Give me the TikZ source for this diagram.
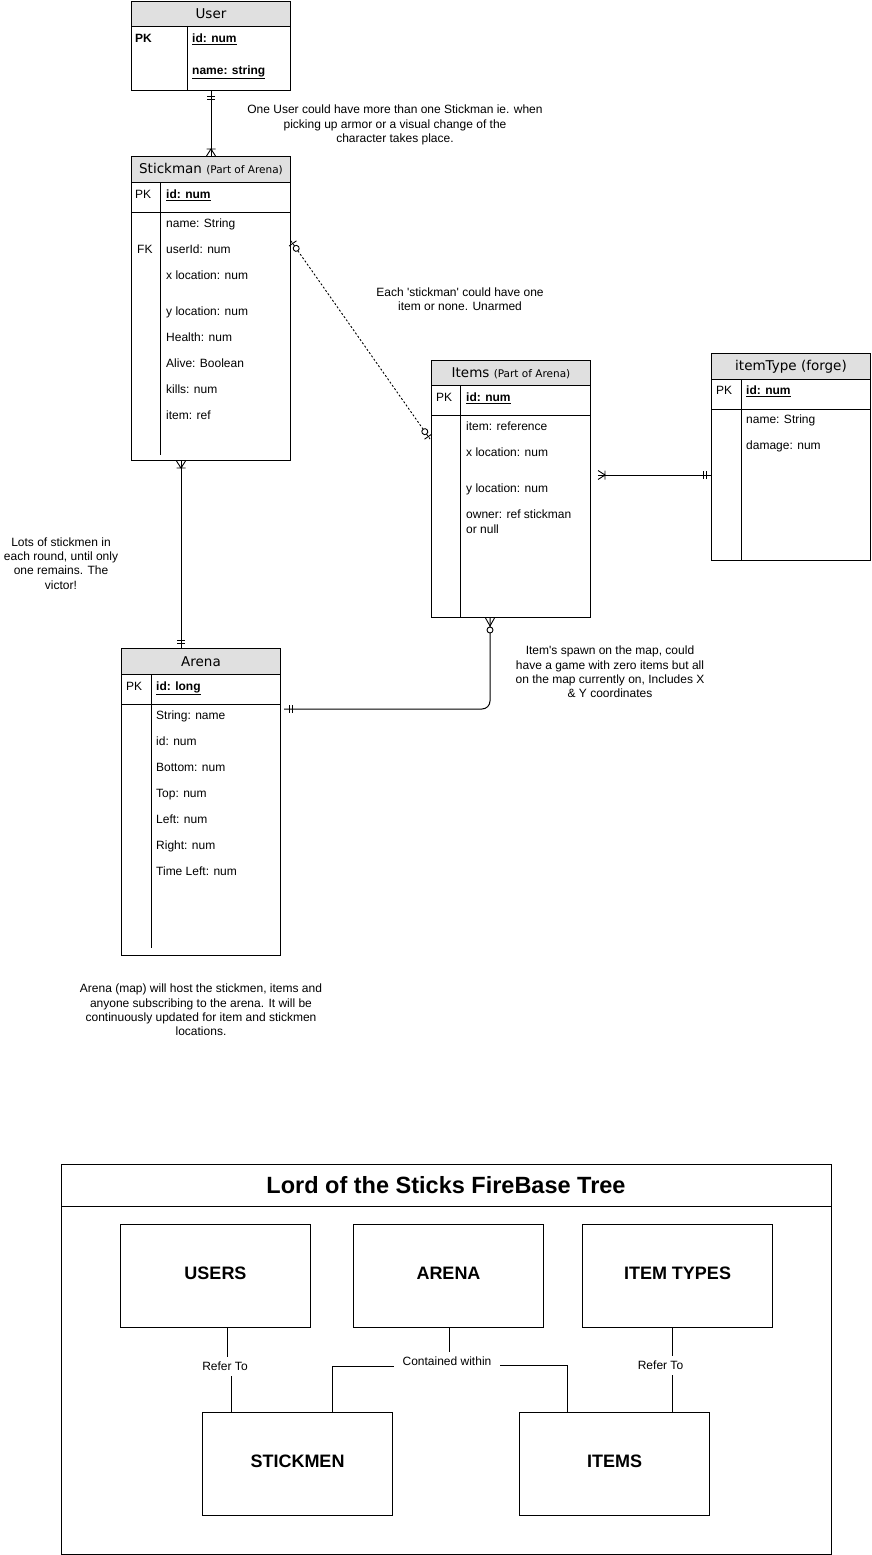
\documentclass[tikz,border=0pt]{standalone}
\usepackage{fontspec}
\setmainfont{Liberation Sans}[Ligatures=TeXOff]
\newfontfamily\hdrfont{DejaVu Sans}
\usetikzlibrary{calc}
\definecolor{hdrgray}{RGB}{224,224,224}
\newcommand\erMandOne[2]{\begin{scope}[shift={(#1)},rotate=#2]\draw[mk] (5,-4)--(5,4) (8,-4)--(8,4);\end{scope}}
\newcommand\erOneMany[2]{\begin{scope}[shift={(#1)},rotate=#2]\draw[mk] (0,-4.5)--(7,0)--(0,4.5) (7,-4.5)--(7,4.5);\end{scope}}
\newcommand\erZeroMany[2]{\begin{scope}[shift={(#1)},rotate=#2]\draw[mk] (0,-4.5)--(8,0)--(0,4.5); \draw[mk,fill=white] (12,0) circle[radius=3pt];\end{scope}}
\newcommand\erZeroOne[2]{\begin{scope}[shift={(#1)},rotate=#2]\draw[mk] (3,-4.5)--(3,4.5); \draw[mk,fill=white] (9,0) circle[radius=3pt];\end{scope}}
\begin{document}
\begin{tikzpicture}[x=1pt,y=-1pt,
  mk/.style={line width=0.9pt,solid,black},
  ln/.style={line width=1pt},
  tbox/.style={draw,line width=1pt,anchor=north west,inner sep=0pt},
  hdrbox/.style={tbox,fill=hdrgray,font=\hdrfont\fontsize{13.5}{16}\selectfont},
  att/.style={anchor=west,inner sep=0pt,font=\fontsize{12}{14}\selectfont,text height=9pt,text depth=2.5pt},
  attb/.style={att,font=\fontsize{12}{14}\selectfont\bfseries},
  note/.style={align=center,inner sep=0pt,font=\fontsize{12}{14.4}\selectfont},
  bigbox/.style={draw,line width=1pt,minimum width=190pt,minimum height=103pt,anchor=north west,inner sep=0pt,text depth=6pt,font=\fontsize{18}{20}\selectfont\bfseries},
  lbl/.style={fill=white,inner xsep=9pt,inner ysep=5pt,font=\fontsize{12}{14}\selectfont}
]
\useasboundingbox (0,0) rectangle (871,1555);
\fill[white] (0,0) rectangle (871,1555);

% ---------- User ----------
\node[hdrbox,minimum width=159pt,minimum height=25pt] (userH) at (131,1) {User};
\node[tbox,minimum width=159pt,minimum height=64pt] (user) at (131,26) {};
\draw[ln] (187,26) -- (187,90);
\node[attb] at (135,39) {PK};
\node[attb] at (192,39) {\underline{id: num}};
\node[attb] at (192,71) {\underline{name: string}};

% ---------- Stickman ----------
\node[hdrbox,minimum width=159pt,minimum height=26pt] (stickH) at (131,156) {Stickman {\fontsize{10.5}{12}\selectfont(Part of Arena)}};
\node[tbox,minimum width=159pt,minimum height=278pt] (stick) at (131,182) {};
\draw[ln] (131,212) -- (290,212);
\draw[ln] (160,182) -- (160,455);
\node[att] at (135,195) {PK};
\node[attb] at (166,195) {\underline{id: num}};
\node[att] at (166,224) {name: String};
\node[att] at (137,250) {FK};
\node[att] at (166,250) {userId: num};
\node[att] at (166,276) {x location: num};
\node[att] at (166,312) {y location: num};
\node[att] at (166,338) {Health: num};
\node[att] at (166,364) {Alive: Boolean};
\node[att] at (166,390) {kills: num};
\node[att] at (166,416) {item: ref};

% ---------- Items ----------
\node[hdrbox,minimum width=159pt,minimum height=25pt] (itemsH) at (431,360) {Items {\fontsize{10.5}{12}\selectfont(Part of Arena)}};
\node[tbox,minimum width=159pt,minimum height=232pt] (items) at (431,385) {};
\draw[ln] (431,415) -- (590,415);
\draw[ln] (460,385) -- (460,617);
\node[att] at (436,398) {PK};
\node[attb] at (466,398) {\underline{id: num}};
\node[att] at (466,427) {item: reference};
\node[att] at (466,453) {x location: num};
\node[att] at (466,489) {y location: num};
\node[att] at (466,515) {owner: ref stickman};
\node[att] at (466,530) {or null};

% ---------- itemType ----------
\node[hdrbox,minimum width=159pt,minimum height=26pt] (itypeH) at (711,353) {itemType (forge)};
\node[tbox,minimum width=159pt,minimum height=181pt] (itype) at (711,379) {};
\draw[ln] (711,409) -- (870,409);
\draw[ln] (741,379) -- (741,560);
\node[att] at (716,391) {PK};
\node[attb] at (746,391) {\underline{id: num}};
\node[att] at (746,420) {name: String};
\node[att] at (746,446) {damage: num};

% ---------- Arena ----------
\node[hdrbox,minimum width=159pt,minimum height=26pt] (arenaH) at (121,648) {Arena};
\node[tbox,minimum width=159pt,minimum height=281pt] (arena) at (121,674) {};
\draw[ln] (121,704) -- (280,704);
\draw[ln] (151,674) -- (151,948);
\node[att] at (126,687) {PK};
\node[attb] at (156,687) {\underline{id: long}};
\node[att] at (156,716) {String: name};
\node[att] at (156,742) {id: num};
\node[att] at (156,768) {Bottom: num};
\node[att] at (156,794) {Top: num};
\node[att] at (156,820) {Left: num};
\node[att] at (156,846) {Right: num};
\node[att] at (156,872) {Time Left: num};

% ---------- ER connectors ----------
\coordinate (a1) at (user.south);
\coordinate (a2) at (stickH.north);
\draw[ln] (a1) -- (a2);
\erMandOne{a1}{-90}
\erOneMany{a2}{90}

\coordinate (b1) at ($(stick.south west)+(50,0)$);
\coordinate (b2) at ($(arenaH.north west)+(60,0)$);
\draw[ln] (b1) -- (b2);
\erOneMany{b1}{-90}
\erMandOne{b2}{90}

\coordinate (c1) at ($(stick.north east)+(0,59)$);
\coordinate (c2) at ($(items.north west)+(-1,54)$);
\draw[line width=0.9pt,dash pattern=on 2pt off 2pt] (c1) -- (c2);
\erZeroOne{c1}{-54.8}
\erZeroOne{c2}{125.2}

\coordinate (d1) at ($(items.north east)+(7,90)$);
\coordinate (d2) at ($(itype.north west)+(0,96)$);
\draw[ln] (d1) -- (d2);
\erOneMany{d1}{0}
\erMandOne{d2}{180}

\coordinate (e1) at ($(items.south west)+(59,0)$);
\coordinate (e2) at ($(arena.north east)+(3,35)$);
\draw[ln,rounded corners=8pt] (e1) |- (e2);
\erZeroMany{e1}{-90}
\erMandOne{e2}{0}

% ---------- notes ----------
\node[note] at (395,125) {One User could have more than one Stickman ie. when\\picking up armor or a visual change of the\\character takes place.};
\node[note] at (460,299) {Each 'stickman' could have one\\item or none. Unarmed};
\node[note] at (61,563.5) {Lots of stickmen in\\each round, until only\\one remains. The\\victor!};
\node[note] at (610,672) {Item's spawn on the map, could\\have a game with zero items but all\\on the map currently on, Includes X\\\& Y coordinates};
\node[note] at (201,1010) {Arena (map) will host the stickmen, items and\\anyone subscribing to the arena. It will be\\continuously updated for item and stickmen\\locations.};

% ---------- FireBase tree ----------
\node[draw,line width=1pt,anchor=north west,minimum width=770pt,minimum height=390pt,inner sep=0pt] (tree) at (61,1164) {};
\draw[ln] (61,1206) -- (831,1206);
\node[inner sep=0pt,font=\fontsize{23.5}{26}\selectfont\bfseries] (title) at (446,1185) {Lord of the Sticks FireBase Tree};

\node[bigbox] (users) at (120,1224) {USERS};
\node[bigbox] (arenaB) at (353,1224) {ARENA};
\node[bigbox] (itypes) at (582,1224) {ITEM TYPES};
\node[bigbox] (stickB) at (202,1412) {STICKMEN};
\node[bigbox] (itemsB) at (519,1412) {ITEMS};

\draw[ln] ($(users.south west)+(107,0)$) -- ++(0,41) -| ($(stickB.north west)+(29,0)$);
\draw[ln] ($(arenaB.south west)+(96,0)$) -- ++(0,38) -| ($(stickB.north west)+(130,0)$);
\draw[ln] ($(arenaB.south west)+(96,0)$) -- ++(0,37) -| ($(itemsB.north west)+(48,0)$);
\draw[ln] ($(itypes.south west)+(90,0)$) -- ($(itemsB.north west)+(153,0)$);

\node[lbl] (lu) at (225,1366.5) {Refer To};
\node[lbl] (la) at (447,1361.5) {Contained within};
\node[lbl] (li) at (660.5,1365.5) {Refer To};
\end{tikzpicture}
\end{document}
